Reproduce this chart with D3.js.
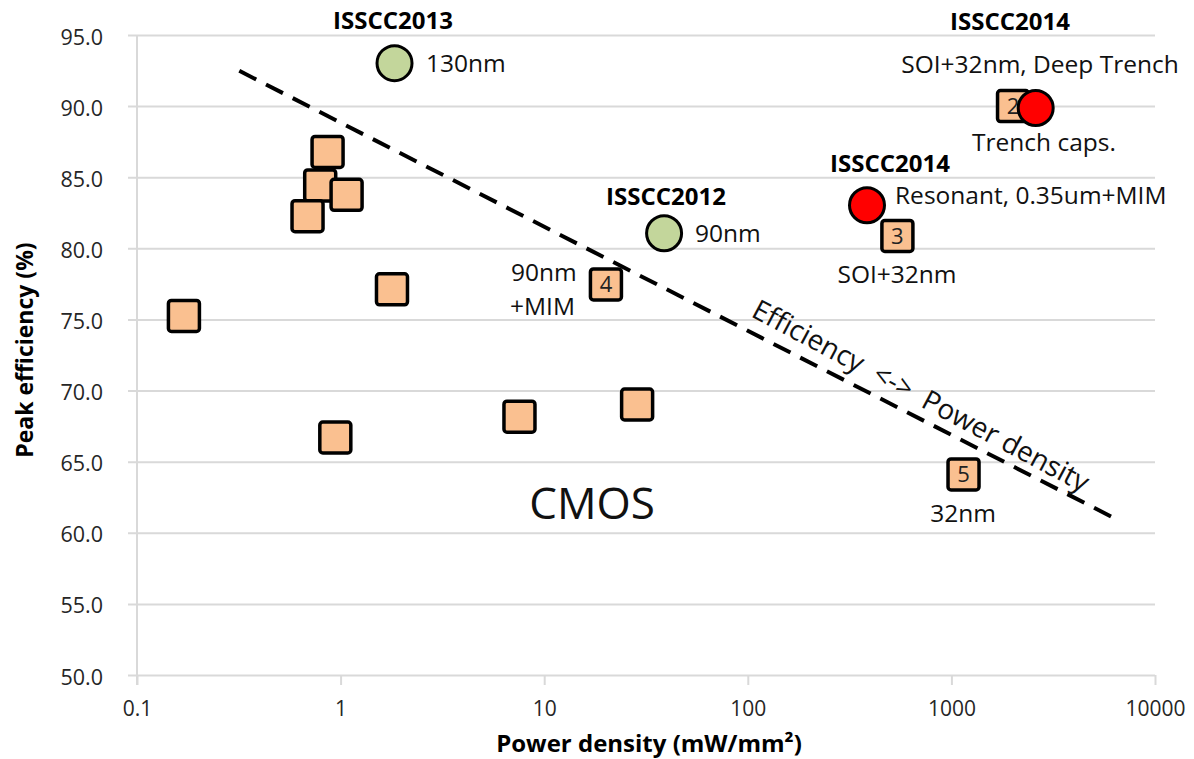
<!DOCTYPE html>
<html>
<head>
<meta charset="utf-8">
<script src="https://cdn.jsdelivr.net/npm/d3@7"></script>
<style>
  html, body { margin: 0; padding: 0; background: #fff; }
  svg { display: block; }
  text { font-family: "Open Sans", "Noto Sans", sans-serif; }
</style>
</head>
<body>
<svg id="chart" width="1194" height="759"></svg>
<script>
// ---- data -------------------------------------------------------------
// CMOS converters without reference number
const cmosDensity    = [0.170, 0.863, 0.794, 1.07, 0.688, 1.788, 0.942, 7.56, 28.6];
const cmosEfficiency = [75.25, 86.78, 84.42, 83.76, 82.26, 77.12, 66.70, 68.16, 69.02];

// numbered CMOS converters
const refIds        = ["2", "3", "4", "5"];
const refDensity    = [2008, 543, 20.1, 1147];
const refEfficiency = [90.0, 80.87, 77.46, 64.10];

// ISSCC 2012/2013 converters (green)
const oldDensity    = [1.84, 38.8];
const oldEfficiency = [93.02, 81.06];

// ISSCC 2014 converters (red)
const newDensity    = [2594, 385];
const newEfficiency = [89.87, 83.03];

// trade-off guide line
const trendDensity    = [0.318, 6290];
const trendEfficiency = [92.48, 61.04];

const xTicks = [0.1, 1, 10, 100, 1000, 10000];
const xTickLabels = ["0.1", "1", "10", "100", "1000", "10000"];
const yTicks = [50, 55, 60, 65, 70, 75, 80, 85, 90, 95];

// ---- layout -----------------------------------------------------------
const plotL = 137, plotR = 1155, plotT = 35, plotB = 675;
const svg = d3.select("#chart");

const x = d3.scaleLog().domain([0.1, 10000]).range([plotL, plotR]);
const y = d3.scaleLinear().domain([50, 95]).range([plotB, plotT]);

const gridColor = "#d9d9d9";
const squareFill = "#fac090";
const greenFill = "#c3d69b";
const redFill = "#ff0000";

// horizontal gridlines + y labels
const yAxis = d3.axisLeft(y)
  .tickValues(yTicks)
  .tickSize(plotR - plotL + 9)
  .tickPadding(25)
  .tickFormat(d3.format(".1f"));
const gy = svg.append("g").attr("transform", `translate(${plotR},0)`).call(yAxis);
gy.select(".domain").remove();
gy.selectAll(".tick line").attr("stroke", gridColor).attr("stroke-width", 2);
gy.selectAll(".tick text")
  .attr("fill", "#262626")
  .style("font-size", "21.5px")
  .attr("dy", "0.42em");

// vertical axis line
svg.append("line")
  .attr("x1", plotL).attr("x2", plotL)
  .attr("y1", plotT).attr("y2", plotB + 10)
  .attr("stroke", gridColor).attr("stroke-width", 2);

// x axis ticks + labels
const xAxis = d3.axisBottom(x)
  .tickValues(xTicks)
  .tickSize(10)
  .tickPadding(16)
  .tickFormat((d, i) => xTickLabels[i]);
const gx = svg.append("g").attr("transform", `translate(0,${plotB})`).call(xAxis);
gx.select(".domain").remove();
gx.selectAll(".tick line").attr("stroke", gridColor).attr("stroke-width", 2);
gx.selectAll(".tick text")
  .attr("fill", "#262626")
  .style("font-size", "21px");

// axis titles
svg.append("text")
  .attr("x", 649).attr("y", 752)
  .attr("text-anchor", "middle")
  .style("font-size", "24px").style("font-weight", "bold")
  .text("Power density (mW/mm²)");

svg.append("text")
  .attr("transform", `translate(33,350) rotate(-90)`)
  .attr("text-anchor", "middle")
  .style("font-size", "23px").style("font-weight", "bold")
  .text("Peak efficiency (%)");

// trade-off guide
const trend = trendDensity.map((d, i) => [d, trendEfficiency[i]]);
svg.append("path")
  .attr("d", d3.line().x(d => x(d[0])).y(d => y(d[1]))(trend))
  .attr("fill", "none").attr("stroke", "#000")
  .attr("stroke-width", 4).attr("stroke-dasharray", "19,11");

svg.append("text")
  .attr("transform", `translate(750,316) rotate(28)`)
  .style("font-size", "28px")
  .style("white-space", "pre")
  .attr("fill", "#111")
  .text("Efficiency  <->  Power density");

svg.append("text")
  .attr("x", 592).attr("y", 519)
  .attr("text-anchor", "middle")
  .style("font-size", "44px").attr("fill", "#111")
  .text("CMOS");

// marks
const half = 15.5;
function square(g, d, e) {
  g.append("rect")
    .attr("x", x(d) - half).attr("y", y(e) - half)
    .attr("width", half * 2).attr("height", half * 2)
    .attr("rx", 3).attr("ry", 3)
    .attr("fill", squareFill).attr("stroke", "#000").attr("stroke-width", 3.5);
}
function circle(g, d, e, fill) {
  g.append("circle")
    .attr("cx", x(d)).attr("cy", y(e)).attr("r", 17.5)
    .attr("fill", fill).attr("stroke", "#000").attr("stroke-width", 3);
}
function numbered(g, i) {
  square(g, refDensity[i], refEfficiency[i]);
  g.append("text")
    .attr("x", x(refDensity[i])).attr("y", y(refEfficiency[i]) + 8)
    .attr("text-anchor", "middle")
    .style("font-size", "22px").attr("fill", "#222")
    .text(refIds[i]);
}

const marks = svg.append("g");
cmosDensity.forEach((d, i) => square(marks, d, cmosEfficiency[i]));
numbered(marks, 0);
oldDensity.forEach((d, i) => circle(marks, d, oldEfficiency[i], greenFill));
newDensity.forEach((d, i) => circle(marks, d, newEfficiency[i], redFill));
[1, 2, 3].forEach(i => numbered(marks, i));

// annotations
const notes = [
  { t: "ISSCC2013", x: 393, y: 29, bold: true, a: "middle" },
  { t: "130nm", x: 426, y: 72, a: "start" },
  { t: "ISSCC2012", x: 666, y: 205, bold: true, a: "middle" },
  { t: "90nm", x: 695, y: 242, a: "start" },
  { t: "ISSCC2014", x: 1010, y: 30, bold: true, a: "middle" },
  { t: "SOI+32nm, Deep Trench", x: 1040, y: 73, a: "middle" },
  { t: "Trench caps.", x: 1044, y: 151, a: "middle" },
  { t: "ISSCC2014", x: 890, y: 172, bold: true, a: "middle" },
  { t: "Resonant, 0.35um+MIM", x: 895, y: 204, a: "start" },
  { t: "SOI+32nm", x: 897, y: 283, a: "middle" },
  { t: "90nm", x: 511, y: 281, a: "start" },
  { t: "+MIM", x: 510, y: 315, a: "start" },
  { t: "32nm", x: 963, y: 522, a: "middle" }
];
svg.append("g").selectAll("text").data(notes).join("text")
  .attr("x", d => d.x).attr("y", d => d.y)
  .attr("text-anchor", d => d.a)
  .style("font-size", d => d.bold ? "24px" : "24.5px")
  .style("font-weight", d => d.bold ? "bold" : "normal")
  .attr("fill", d => d.bold ? "#000" : "#111")
  .text(d => d.t);
</script>
</body>
</html>
